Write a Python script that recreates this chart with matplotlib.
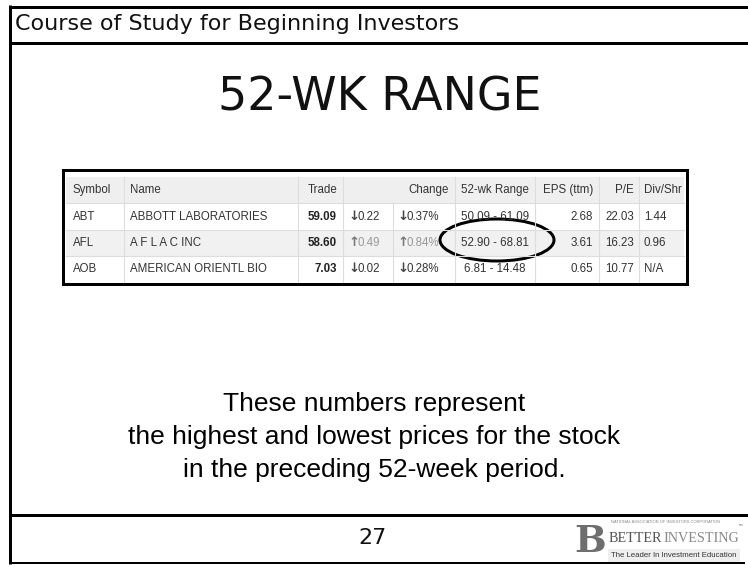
import matplotlib
matplotlib.use("Agg")
import matplotlib.pyplot as plt
from matplotlib.patches import Rectangle, Ellipse

# ------------------------------
# 1. Slide text and table data
# ------------------------------
header_text = "Course of Study for Beginning Investors"
slide_title = "52-WK RANGE"
body_lines = [
    "These numbers represent",
    "the highest and lowest prices for the stock",
    "in the preceding 52-week period.",
]
page_number = "27"

col_headers = ["Symbol", "Name", "Trade", "", "Change", "52-wk Range", "EPS (ttm)", "P/E", "Div/Shr"]
symbols = ["ABT", "AFL", "AOB"]
names = ["ABBOTT LABORATORIES", "A F L A C INC", "AMERICAN ORIENTL BIO"]
trades = ["59.09", "58.60", "7.03"]
change_dir = ["down", "up", "down"]
changes = ["0.22", "0.49", "0.02"]
change_pcts = ["0.37%", "0.84%", "0.28%"]
wk_ranges = ["50.09 - 61.09", "52.90 - 68.81", "6.81 - 14.48"]
eps_ttm = ["2.68", "3.61", "0.65"]
pe_ratio = ["22.03", "16.23", "10.77"]
div_shr = ["1.44", "0.96", "N/A"]
highlight_row = 1  # the circled 52-wk range

# ------------------------------
# 2. Canvas in pixel coordinates
# ------------------------------
W, H = 748, 565
fig = plt.figure(figsize=(W / 100, H / 100), dpi=100)
ax = fig.add_axes([0, 0, 1, 1])
ax.set_xlim(0, W)
ax.set_ylim(H, 0)
ax.axis("off")

def px(p):
    # pixel width -> points
    return p * 0.72

# slide frame
ax.plot([10, W], [6.5, 6.5], color="black", lw=px(3), solid_capstyle="butt")
ax.plot([10, W], [42.5, 42.5], color="black", lw=px(3), solid_capstyle="butt")
ax.plot([10, W], [514.5, 514.5], color="black", lw=px(3), solid_capstyle="butt")
ax.plot([10, 745], [563, 563], color="black", lw=px(2), solid_capstyle="butt")
ax.plot([10.5, 10.5], [5, 564], color="black", lw=px(3), solid_capstyle="butt")

ax.text(15, 24, header_text, fontsize=16, family="DejaVu Sans", color="#111111",
        va="center", ha="left")
ax.text(380, 98, slide_title, fontsize=33, family="DejaVu Sans", color="#111111",
        va="center", ha="center")

for i, line in enumerate(body_lines):
    ax.text(374, 404 + i * 33, line, fontsize=19, family="Liberation Sans",
            color="black", va="center", ha="center")

ax.text(373, 538, page_number, fontsize=16, family="DejaVu Sans", color="#111111",
        va="center", ha="center")

# ------------------------------
# 3. Quote table
# ------------------------------
tx0, tx1 = 66, 684
row_y = [177, 203, 230, 256, 282]
seps = [124, 298, 343, 393, 455, 535, 599, 639]

# backgrounds
ax.add_patch(Rectangle((tx0, row_y[0]), tx1 - tx0, row_y[1] - row_y[0], color="#efefef", lw=0))
ax.add_patch(Rectangle((tx0, row_y[2]), tx1 - tx0, row_y[3] - row_y[2], color="#f1f1f1", lw=0))

# grid lines
for y in row_y[1:-1]:
    ax.plot([tx0, tx1], [y, y], color="#dddddd", lw=0.8)
for x in seps:
    top = row_y[1] if x == 393 else row_y[0]
    ax.plot([x, x], [top, row_y[-1]], color="#dddddd", lw=0.8)

fs = 8.3
tc = "#333333"
hy = (row_y[0] + row_y[1]) / 2
ax.text(73, hy, col_headers[0], fontsize=fs, color=tc, family="Liberation Sans", va="center")
ax.text(130, hy, col_headers[1], fontsize=fs, color=tc, family="Liberation Sans", va="center")
ax.text(337, hy, col_headers[2], fontsize=fs, color=tc, family="Liberation Sans", va="center", ha="right")
ax.text(449, hy, col_headers[4], fontsize=fs, color=tc, family="Liberation Sans", va="center", ha="right")
ax.text(495, hy, col_headers[5], fontsize=fs, color=tc, family="Liberation Sans", va="center", ha="center")
ax.text(593, hy, col_headers[6], fontsize=fs, color=tc, family="Liberation Sans", va="center", ha="right")
ax.text(634, hy, col_headers[7], fontsize=fs, color=tc, family="Liberation Sans", va="center", ha="right")
ax.text(644, hy, col_headers[8], fontsize=fs, color=tc, family="Liberation Sans", va="center")

for r in range(len(symbols)):
    y = (row_y[r + 1] + row_y[r + 2]) / 2
    ax.text(73, y, symbols[r], fontsize=fs, color=tc, family="Liberation Sans", va="center")
    ax.text(130, y, names[r], fontsize=fs, color=tc, family="Liberation Sans", va="center")
    ax.text(337, y, trades[r], fontsize=fs, color="#222222", family="Liberation Sans",
            weight="bold", va="center", ha="right")
    arrow = "\u2193" if change_dir[r] == "down" else "\u2191"
    ac = "#444444" if change_dir[r] == "down" else "#777777"
    vc = tc if change_dir[r] == "down" else "#999999"
    ax.text(348, y, arrow, fontsize=9.5, color=ac, family="DejaVu Sans", weight="bold", va="center")
    ax.text(358, y, changes[r], fontsize=fs, color=vc, family="Liberation Sans", va="center")
    ax.text(397, y, arrow, fontsize=9.5, color=ac, family="DejaVu Sans", weight="bold", va="center")
    ax.text(407, y, change_pcts[r], fontsize=fs, color=vc, family="Liberation Sans", va="center")
    ax.text(495, y, wk_ranges[r], fontsize=fs, color=tc, family="Liberation Sans", va="center", ha="center")
    ax.text(593, y, eps_ttm[r], fontsize=fs, color=tc, family="Liberation Sans", va="center", ha="right")
    ax.text(634, y, pe_ratio[r], fontsize=fs, color=tc, family="Liberation Sans", va="center", ha="right")
    ax.text(644, y, div_shr[r], fontsize=fs, color=tc, family="Liberation Sans", va="center")

# outer box round the table
ax.add_patch(Rectangle((63, 170), 624, 114, fill=False, ec="black", lw=px(3)))

# circle round the highlighted range
hy2 = (row_y[highlight_row + 1] + row_y[highlight_row + 2]) / 2
ax.add_patch(Ellipse((497, hy2 - 3), 114, 42, fill=False, ec="black", lw=px(3)))

# ------------------------------
# 4. BetterInvesting logo (text version)
# ------------------------------
ax.text(590, 541, "B", fontsize=27, family="DejaVu Serif", weight="bold", color="#6e6e6e",
        va="center", ha="center")
ax.text(611, 522, "NATIONAL ASSOCIATION OF INVESTORS CORPORATION", fontsize=2.9,
        family="Liberation Sans", color="#888888", va="center")
t_better = ax.text(609, 538, "BETTER", fontsize=10.2, family="Liberation Serif", color="#555555",
                   va="center")
fig.canvas.draw()
bb = t_better.get_window_extent()
x_inv = ax.transData.inverted().transform((bb.x1, bb.y0))[0]
ax.text(x_inv + 0.5, 538, "INVESTING", fontsize=10.2, family="Liberation Serif", color="#8a8a8a",
        va="center")
ax.text(737, 528, "\u2122", fontsize=4, family="DejaVu Sans", color="#555555", va="center")
ax.add_patch(Rectangle((608, 549), 132, 13, color="#eeeeee", lw=0))
ax.text(611, 555.5, "The Leader In Investment Education", fontsize=5.6, family="Liberation Sans",
        color="#333333", va="center")

fig.savefig("out.png", dpi=100)
